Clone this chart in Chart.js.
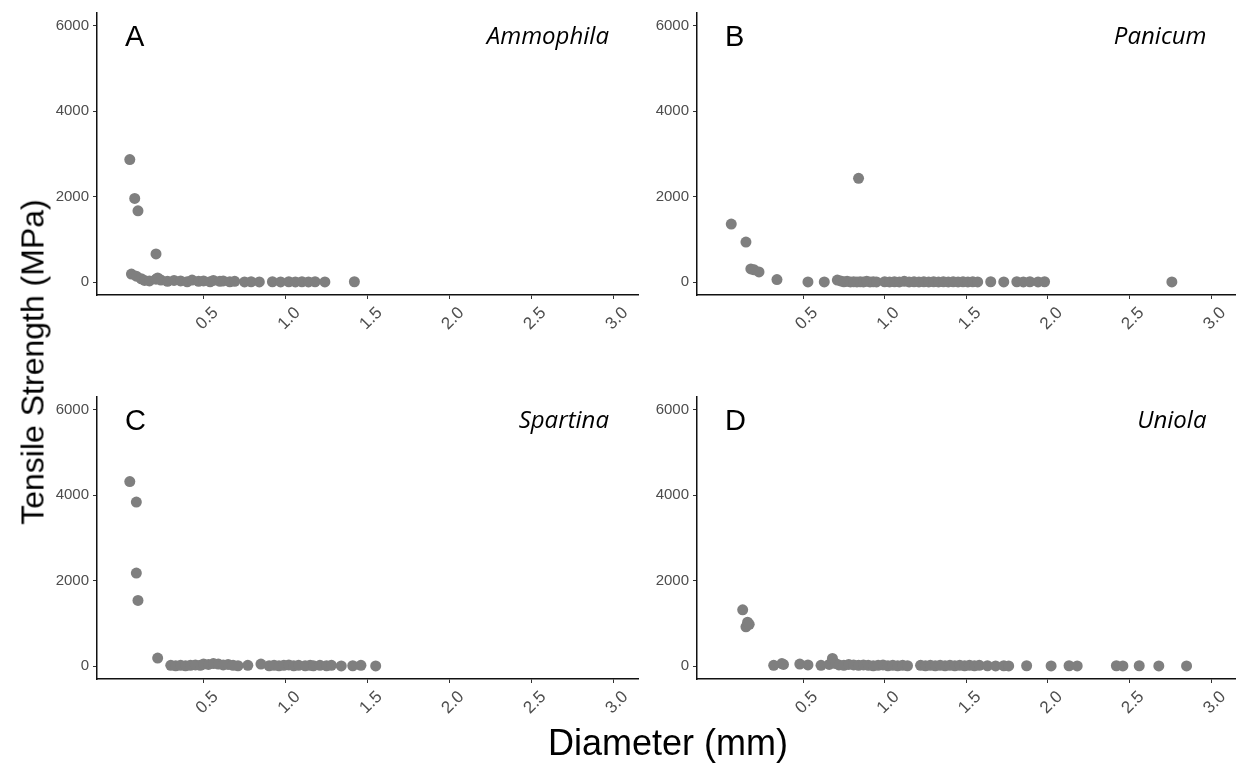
<!DOCTYPE html>
<html>
<head>
<meta charset="utf-8">
<script src="https://cdn.jsdelivr.net/npm/chart.js@4"></script>
<style>
  body { margin: 0; background: #fff; width: 1241px; height: 765px; position: relative; overflow: hidden; }
  .panel { position: absolute; width: 605px; height: 345px; }
  .axis-title { position: absolute; font-family: "Liberation Sans", Arial, sans-serif; color: #000; white-space: nowrap; }
  #ytitle { font-size: 32px; left: 33px; top: 362px; transform: translate(-50%, -50%) rotate(-90deg); }
  #xtitle { font-size: 36px; left: 668px; top: 722px; transform: translateX(-50%); }
</style>
</head>
<body>
<div class="panel" style="left:40px; top:0px;"><canvas id="chartA"></canvas></div>
<div class="panel" style="left:640px; top:0px; width:601px;"><canvas id="chartB"></canvas></div>
<div class="panel" style="left:40px; top:384px;"><canvas id="chartC"></canvas></div>
<div class="panel" style="left:640px; top:384px; width:601px;"><canvas id="chartD"></canvas></div>
<div class="axis-title" id="ytitle">Tensile Strength (MPa)</div>
<div class="axis-title" id="xtitle">Diameter (mm)</div>

<script>
// tick labels
const xTicks = [0.5, 1.0, 1.5, 2.0, 2.5, 3.0];
const yTicks = [0, 2000, 4000, 6000];

// A - Ammophila
const diamA = [0.05, 0.08, 0.10, 0.21, 0.06, 0.09, 0.12, 0.14, 0.22,
  0.17, 0.21, 0.24, 0.28, 0.32, 0.36, 0.40, 0.43, 0.47, 0.50, 0.54, 0.56, 0.60,
  0.62, 0.66, 0.69, 0.75, 0.79, 0.84, 0.92, 0.97, 1.02, 1.06, 1.10, 1.14, 1.18,
  1.24, 1.42];
const strengthA = [2870, 1960, 1670, 660, 190, 140, 80, 40, 100,
  30, 70, 50, 20, 40, 30, 10, 50, 20, 30, 10, 40, 20,
  30, 10, 20, 5, 10, 5, 10, 5, 10, 5, 10, 5, 10,
  5, 10];

// B - Panicum
const diamB = [0.06, 0.15, 0.18, 0.20, 0.23, 0.34, 0.84, 0.53, 0.63,
  0.71, 0.73, 0.75, 0.77, 0.79, 0.81, 0.83, 0.85, 0.87, 0.89, 0.91, 0.93, 0.95,
  1.00, 1.03, 1.06, 1.09, 1.12, 1.15, 1.18, 1.21, 1.24, 1.27, 1.30, 1.33, 1.36,
  1.39, 1.42, 1.45, 1.48, 1.51, 1.54, 1.57, 1.65, 1.73, 1.81, 1.85, 1.89, 1.94,
  1.98, 2.76];
const strengthB = [1360, 940, 310, 290, 240, 60, 2430, 5, 5,
  50, 30, 10, 20, 5, 10, 5, 10, 5, 20, 5, 10, 5,
  10, 5, 10, 5, 20, 5, 10, 5, 10, 5, 10, 5, 10,
  5, 10, 5, 10, 5, 10, 5, 10, 5, 10, 5, 10, 5,
  10, 5];

// C - Spartina
const diamC = [0.05, 0.09, 0.09, 0.10, 0.22,
  0.30, 0.33, 0.36, 0.39, 0.42, 0.45, 0.48, 0.50, 0.53, 0.56, 0.59, 0.62, 0.65,
  0.68, 0.71, 0.77, 0.85, 0.90, 0.93, 0.96, 0.99, 1.02, 1.05, 1.08, 1.12, 1.15,
  1.17, 1.21, 1.25, 1.28, 1.34, 1.41, 1.46, 1.55];
const strengthC = [4320, 3840, 2180, 1540, 190,
  20, 10, 20, 10, 20, 30, 20, 50, 40, 60, 50, 30, 40,
  20, 10, 20, 50, 10, 20, 10, 20, 30, 10, 20, 10, 20,
  10, 20, 10, 20, 5, 10, 20, 5];

// D - Uniola
const diamD = [0.13, 0.15, 0.16, 0.17, 0.68,
  0.32, 0.37, 0.38, 0.48, 0.53, 0.61, 0.66, 0.70, 0.72, 0.75, 0.78, 0.81, 0.84,
  0.87, 0.90, 0.93, 0.96, 0.99, 1.02, 1.05, 1.08, 1.11, 1.14, 1.22, 1.25, 1.28,
  1.31, 1.34, 1.37, 1.40, 1.43, 1.46, 1.49, 1.52, 1.55, 1.58, 1.63, 1.68, 1.73,
  1.76, 1.87, 2.02, 2.13, 2.18, 2.42, 2.46, 2.56, 2.68, 2.85];
const strengthD = [1320, 920, 1030, 980, 180,
  20, 60, 40, 50, 30, 20, 40, 60, 30, 20, 40, 30, 20,
  30, 20, 10, 20, 30, 10, 20, 10, 20, 10, 20, 10, 20,
  10, 20, 10, 20, 10, 20, 10, 20, 10, 20, 10, 5, 10,
  5, 10, 5, 10, 5, 10, 5, 10, 5, 5];

const panelText = {
  id: "panelText",
  afterDraw(chart, args, opts) {
    const { ctx, chartArea } = chart;
    ctx.save();
    ctx.fillStyle = "#000";
    ctx.textBaseline = "alphabetic";
    ctx.font = '29px "Liberation Sans", Arial, sans-serif';
    ctx.textAlign = "left";
    ctx.fillText(opts.letter, chartArea.left + 28, chartArea.top + 33);
    ctx.font = 'italic 24px "Open Sans", sans-serif';
    ctx.textAlign = "right";
    ctx.fillText(opts.species, chartArea.right - 29, chartArea.top + 31);
    ctx.restore();
  },
};

function makePanel(id, xs, ys, letter, species, padRight) {
  const points = xs.map((x, i) => ({ x: x, y: ys[i] }));
  new Chart(document.getElementById(id), {
    type: "scatter",
    data: {
      datasets: [
        {
          data: points,
          backgroundColor: "#7f7f7f",
          borderWidth: 0,
          pointRadius: 5.5,
          pointHoverRadius: 5.5,
        },
      ],
    },
    options: {
      responsive: true,
      maintainAspectRatio: false,
      animation: false,
      events: [],
      layout: { padding: { top: 8, right: padRight, left: 0, bottom: 0 } },
      plugins: {
        legend: { display: false },
        tooltip: { enabled: false },
        panelText: { letter: letter, species: species },
      },
      scales: {
        x: {
          type: "linear",
          min: -0.15,
          max: 3.15,
          afterBuildTicks: (s) => { s.ticks = xTicks.map((v) => ({ value: v })); },
          afterFit: (s) => { s.height = 50; },
          ticks: {
            color: "#4d4d4d",
            font: { family: '"Liberation Sans", Arial, sans-serif', size: 17 },
            minRotation: 45,
            maxRotation: 45,
            padding: 4,
            labelOffset: 12,
            callback: (v) => v.toFixed(1),
          },
          grid: { display: true, drawOnChartArea: false, drawTicks: true, tickLength: 4, color: "#333" },
          border: { display: true, color: "#111", width: 1.5 },
        },
        y: {
          type: "linear",
          min: -300,
          max: 6300,
          afterBuildTicks: (s) => { s.ticks = yTicks.map((v) => ({ value: v })); },
          afterFit: (s) => { s.width = 57; },
          ticks: {
            color: "#4d4d4d",
            font: { family: '"Liberation Sans", Arial, sans-serif', size: 15 },
            padding: 4,
            callback: (v) => String(v),
          },
          grid: { display: true, drawOnChartArea: false, drawTicks: true, tickLength: 4, color: "#333" },
          border: { display: true, color: "#111", width: 1.5 },
        },
      },
    },
    plugins: [panelText],
  });
}

makePanel("chartA", diamA, strengthA, "A", "Ammophila", 7);
makePanel("chartB", diamB, strengthB, "B", "Panicum", 3);
makePanel("chartC", diamC, strengthC, "C", "Spartina", 7);
makePanel("chartD", diamD, strengthD, "D", "Uniola", 3);
</script>
</body>
</html>
